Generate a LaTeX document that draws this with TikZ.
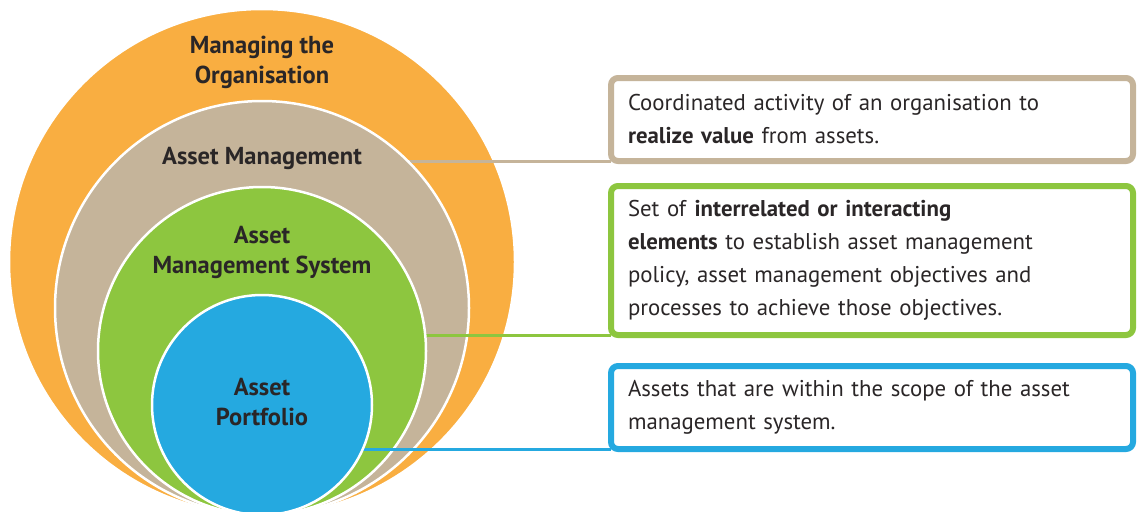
\documentclass[tikz,border=0pt]{standalone}
\usepackage{fontspec}
\setmainfont{PT Sans}
\definecolor{cOrange}{HTML}{F9AE41}
\definecolor{cBeige}{HTML}{C5B49A}
\definecolor{cGreen}{HTML}{8DC63F}
\definecolor{cBlue}{HTML}{25A9E0}
\definecolor{cText}{HTML}{2A2627}
\tikzset{
  ring/.style={circle,draw=white,line width=2.5pt,inner sep=0pt,outer sep=0pt,minimum size=#1},
  lbl/.style={font=\fontsize{24.5}{30}\selectfont\bfseries,text=cText,align=center,inner sep=0pt},
  infobox/.style={draw=#1,line width=6pt,rounded corners=7pt,fill=white,outer sep=0pt,
    minimum width=522pt,anchor=north west,align=left,text width=488pt,inner xsep=17pt,
    font=\fontsize{22.8}{33}\selectfont,text=cText},
  link/.style={draw=#1,line width=3pt}
}
\begin{document}
\begin{tikzpicture}[x=1pt,y=-1pt]
\useasboundingbox (0,0) rectangle (1137,511);
\node[infobox=cBeige,minimum height=83pt] (b1) at (611,78)
  {Coordinated activity of an organisation to\\\textbf{realize value} from assets.};
\node[infobox=cGreen,minimum height=149pt] (b2) at (611,186)
  {Set of \textbf{interrelated or interacting}\\\textbf{elements} to establish asset management\\policy, asset management objectives and\\processes to achieve those objectives.};
\node[infobox=cBlue,minimum height=83pt] (b3) at (611,366)
  {Assets that are within the scope of the asset\\management system.};
\coordinate (ctr) at (262,300);
\begin{scope}
\clip (0,0) rectangle (1137,511);
\node[ring=506pt,fill=cOrange] (org) at (262,262) {};
\draw[link=cBeige] (b1.south west) -- (ctr |- b1.south west);
\node[ring=414pt,fill=cBeige] (am) at (262,308) {};
\draw[link=cGreen] (b2.south west) -- (ctr |- b2.south west);
\node[ring=328pt,fill=cGreen] (ams) at (262,351) {};
\draw[link=cBlue] (b3.south west) -- (ctr |- b3.south west);
\node[ring=220pt,fill=cBlue] (ap) at (262,405) {};
\end{scope}
\node[lbl] (torg) at (262,62) {Managing the\\Organisation};
\node[lbl] (tam) at (262,158) {Asset Management};
\node[lbl] (tams) at (262,252) {Asset\\Management System};
\node[lbl] (tap) at (262,402) {Asset\\Portfolio};
\end{tikzpicture}
\end{document}
